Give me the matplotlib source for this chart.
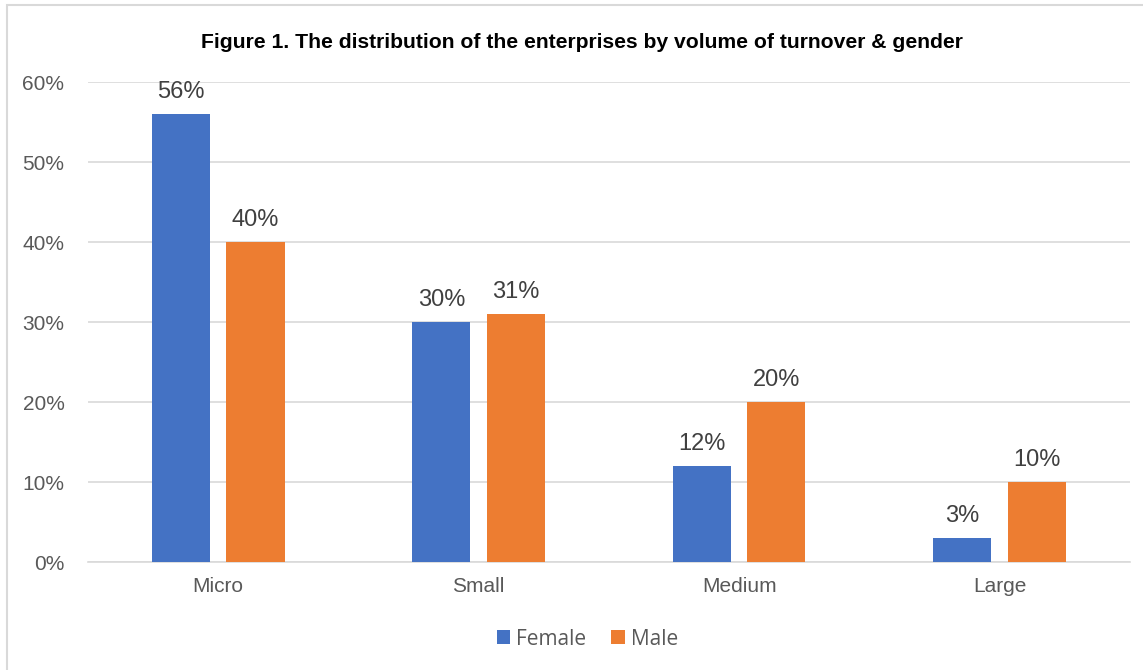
import numpy as np
import matplotlib.pyplot as plt
from matplotlib.patches import Rectangle

# ---------- DATA ----------
categories = ["Micro", "Small", "Medium", "Large"]
female = [56, 30, 12, 3]
male = [40, 31, 20, 10]
series_labels = ["Female", "Male"]
colors = ["#4472C4", "#ED7D31"]
title = "Figure 1. The distribution of the enterprises by volume of turnover & gender"

# ---------- PLOT ----------
fig = plt.figure(figsize=(11.43, 6.7), dpi=100)
ax = fig.add_axes([0.077, 0.161, 0.9115, 0.7166])

# chart border (Excel style, cut at right/bottom)
fig.patches.append(Rectangle((0.006, -0.05), 1.1, 0.9975 - 0.005 + 0.05,
                             transform=fig.transFigure, fill=False,
                             edgecolor="#d9d9d9", linewidth=1.5))

x = np.arange(len(categories))
w = 0.223
off = 0.143
for vals, lab, c, dx in zip([female, male], series_labels, colors, [-off, off]):
    bars = ax.bar(x + dx, vals, width=w, color=c, label=lab, zorder=3)
    for b, v in zip(bars, vals):
        ax.annotate(f"{v}%", (b.get_x() + b.get_width() / 2, v),
                    xytext=(0, 11.5), textcoords="offset points",
                    ha="center", va="baseline", fontsize=17, color="#404040",
                    family="Liberation Sans")

ax.set_xlim(-0.5, len(categories) - 0.5)
ax.set_ylim(0, 60)
ax.set_yticks(np.arange(0, 61, 10))
ax.set_yticklabels([f"{t}%" for t in range(0, 61, 10)])
ax.set_xticks(x)
ax.set_xticklabels(categories)
ax.grid(axis="y", color="#d9d9d9", linewidth=1.2, zorder=0)
for s in ["top", "right", "left"]:
    ax.spines[s].set_visible(False)
ax.spines["bottom"].set_color("#d9d9d9")
ax.spines["bottom"].set_linewidth(1.2)
ax.tick_params(axis="both", length=0, labelsize=15, labelcolor="#595959")
ax.tick_params(axis="y", pad=17)
ax.tick_params(axis="x", pad=11)
for t in ax.get_xticklabels() + ax.get_yticklabels():
    t.set_family("Liberation Sans")

fig.text(0.509, 0.937, title, ha="center", va="center", fontsize=15.2,
         fontweight="bold", family="Liberation Sans", color="black")

fig.legend(loc="center", bbox_to_anchor=(0.514, 0.046), ncol=2, frameon=False,
           handlelength=0.65, handleheight=0.65, handletextpad=0.3,
           columnspacing=1.2, prop={"family": "Open Sans", "size": 15},
           labelcolor="#595959")

fig.savefig("out.png", dpi=100)
